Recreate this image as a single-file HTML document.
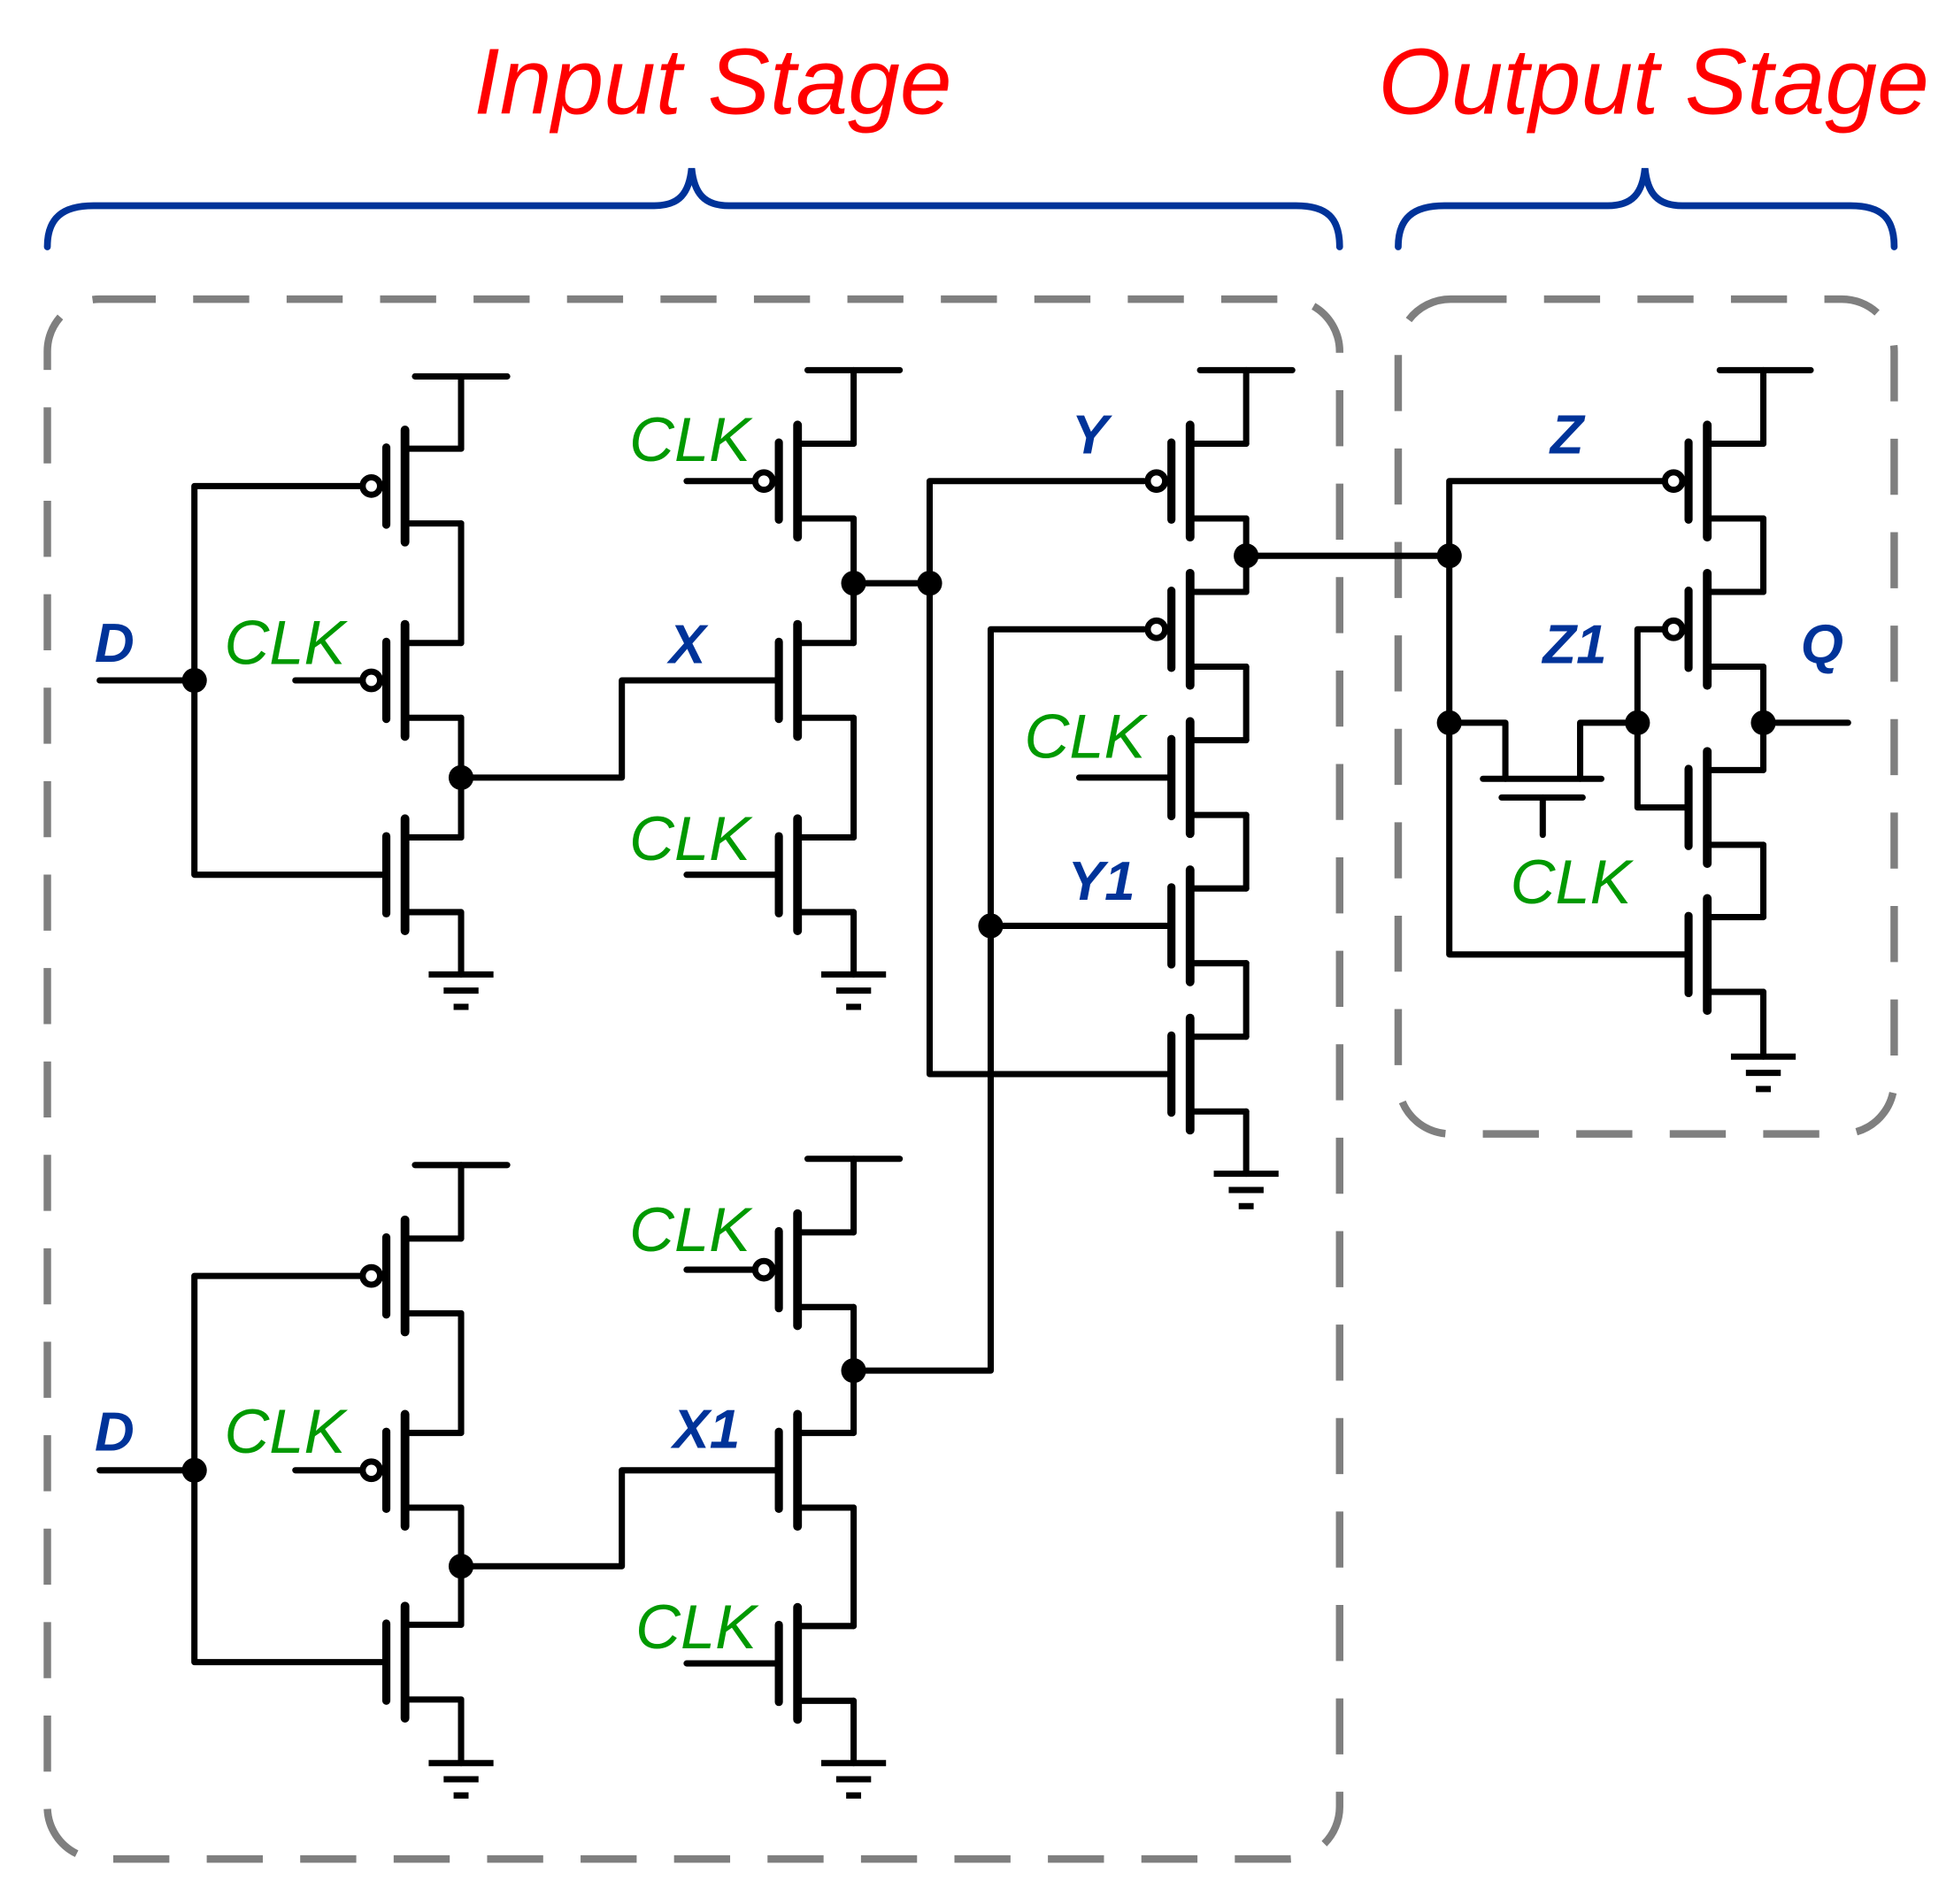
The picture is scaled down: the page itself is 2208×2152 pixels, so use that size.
<!DOCTYPE html>
<html><head><meta charset="utf-8"><style>html,body{margin:0;padding:0;background:#fff;}svg{display:block}</style></head>
<body>
<svg width="2208" height="2152" viewBox="0 0 1568 1528" xmlns="http://www.w3.org/2000/svg">
<defs>
<g id="nm" stroke="#000" fill="none" stroke-linecap="round" stroke-linejoin="round">
<line x1="-15" y1="-31" x2="-15" y2="31" stroke-width="6.5"/>
<line x1="0" y1="-45" x2="0" y2="45" stroke-width="7"/>
<polyline points="0,-30 45,-30" stroke-width="5"/>
<polyline points="0,30 45,30" stroke-width="5"/>
</g>
<g id="pm">
<use href="#nm"/>
<circle cx="-27" cy="0" r="7" fill="#fff" stroke="#000" stroke-width="5"/>
</g>
<g id="gnd" stroke="#000" stroke-width="5" stroke-linecap="butt">
<line x1="-26" y1="0" x2="26" y2="0"/>
<line x1="-14" y1="13" x2="14" y2="13"/>
<line x1="-6" y1="26" x2="6" y2="26"/>
</g>
</defs>
<g fill="none" stroke="#7f7f7f" stroke-width="6" stroke-dasharray="45 30">
<rect x="38" y="240" width="1037" height="1252" rx="42"/>
<rect x="1122" y="240" width="398" height="670" rx="42"/>
</g>
<g fill="none" stroke="#003399" stroke-width="5.5" stroke-linecap="round">
<path d="M38,198 C38,175 50,165 75,165 L525,165 C545,165 553,155 555,135 C557,155 565,165 585,165 L1040,165 C1065,165 1075,175 1075,198"/>
<path d="M1122,198 C1122,175 1134,165 1159,165 L1290,165 C1310,165 1318,155 1320,135 C1322,155 1330,165 1350,165 L1485,165 C1510,165 1520,175 1520,198"/>
</g>
<g font-family="Liberation Sans, sans-serif" font-style="italic" fill="#ff0000" font-size="75">
<text x="572" y="91" text-anchor="middle">Input Stage</text>
<text x="1327" y="91" text-anchor="middle">Output Stage</text>
</g>
<g stroke="#000" stroke-width="5" fill="none" stroke-linejoin="round" stroke-linecap="round">
<line x1="333" y1="302" x2="407" y2="302"/>
<polyline points="370,302 370,360"/>
<polyline points="370,420 370,516"/>
<polyline points="370,576 370,672"/>
<polyline points="370,732 370,782"/>
<line x1="80" y1="546" x2="156" y2="546"/>
<polyline points="290,390 156,390 156,702 308,702"/>
<line x1="237" y1="546" x2="290" y2="546"/>
<polyline points="370,624 499,624 499,546 622,546"/>
<line x1="648" y1="297" x2="722" y2="297"/>
<line x1="685" y1="297" x2="685" y2="356"/>
<line x1="685" y1="416" x2="685" y2="516"/>
<line x1="685" y1="576" x2="685" y2="672"/>
<line x1="685" y1="732" x2="685" y2="782"/>
<line x1="551" y1="386" x2="605" y2="386"/>
<line x1="551" y1="702" x2="622" y2="702"/>
<line x1="685" y1="468" x2="746" y2="468"/>
<polyline points="918,386 746,386 746,862 938,862"/>
<line x1="963" y1="297" x2="1037" y2="297"/>
<line x1="1000" y1="297" x2="1000" y2="356"/>
<line x1="1000" y1="416" x2="1000" y2="475"/>
<line x1="1000" y1="535" x2="1000" y2="594"/>
<line x1="1000" y1="654" x2="1000" y2="713"/>
<line x1="1000" y1="773" x2="1000" y2="832"/>
<line x1="1000" y1="892" x2="1000" y2="942"/>
<line x1="1000" y1="446" x2="1163" y2="446"/>
<polyline points="918,505 795,505 795,1100 685,1100"/>
<line x1="795" y1="743" x2="938" y2="743"/>
<line x1="866" y1="624" x2="938" y2="624"/>
<line x1="333" y1="935" x2="407" y2="935"/>
<polyline points="370,935 370,994"/>
<polyline points="370,1054 370,1150"/>
<polyline points="370,1210 370,1304"/>
<polyline points="370,1364 370,1415"/>
<line x1="80" y1="1180" x2="156" y2="1180"/>
<polyline points="290,1024 156,1024 156,1334 308,1334"/>
<line x1="237" y1="1180" x2="290" y2="1180"/>
<polyline points="370,1257 499,1257 499,1180 622,1180"/>
<line x1="648" y1="930" x2="722" y2="930"/>
<line x1="685" y1="930" x2="685" y2="989"/>
<line x1="685" y1="1049" x2="685" y2="1150"/>
<line x1="685" y1="1210" x2="685" y2="1305"/>
<line x1="685" y1="1365" x2="685" y2="1415"/>
<line x1="551" y1="1019" x2="605" y2="1019"/>
<line x1="551" y1="1335" x2="622" y2="1335"/>
<line x1="1380" y1="297" x2="1453" y2="297"/>
<line x1="1415" y1="297" x2="1415" y2="356"/>
<line x1="1415" y1="416" x2="1415" y2="475"/>
<line x1="1415" y1="535" x2="1415" y2="618"/>
<line x1="1415" y1="678" x2="1415" y2="736"/>
<line x1="1415" y1="796" x2="1415" y2="848"/>
<line x1="1415" y1="580" x2="1483" y2="580"/>
<polyline points="1336,386 1163,386 1163,766 1355,766"/>
<polyline points="1336,505 1314,505 1314,648 1355,648"/>
<polyline points="1163,580 1208,580 1208,625"/>
<polyline points="1314,580 1268,580 1268,625"/>
<line x1="1190" y1="625" x2="1285" y2="625"/>
<line x1="1205" y1="640" x2="1270" y2="640"/>
<line x1="1238" y1="640" x2="1238" y2="670"/>
</g>
<use href="#pm" x="325" y="390"/>
<use href="#pm" x="325" y="546"/>
<use href="#nm" x="325" y="702"/>
<use href="#pm" x="640" y="386"/>
<use href="#nm" x="640" y="546"/>
<use href="#nm" x="640" y="702"/>
<use href="#pm" x="955" y="386"/>
<use href="#pm" x="955" y="505"/>
<use href="#nm" x="955" y="624"/>
<use href="#nm" x="955" y="743"/>
<use href="#nm" x="955" y="862"/>
<use href="#pm" x="325" y="1024"/>
<use href="#pm" x="325" y="1180"/>
<use href="#nm" x="325" y="1334"/>
<use href="#pm" x="640" y="1019"/>
<use href="#nm" x="640" y="1180"/>
<use href="#nm" x="640" y="1335"/>
<use href="#pm" x="1370" y="386"/>
<use href="#pm" x="1370" y="505"/>
<use href="#nm" x="1370" y="648"/>
<use href="#nm" x="1370" y="766"/>
<use href="#gnd" x="370" y="782"/>
<use href="#gnd" x="685" y="782"/>
<use href="#gnd" x="1000" y="942"/>
<use href="#gnd" x="370" y="1415"/>
<use href="#gnd" x="685" y="1415"/>
<use href="#gnd" x="1415" y="848"/>
<g fill="#000">
<circle cx="156" cy="546" r="10"/><circle cx="370" cy="624" r="10"/>
<circle cx="685" cy="468" r="10"/><circle cx="746" cy="468" r="10"/>
<circle cx="1000" cy="446" r="10"/><circle cx="795" cy="743" r="10"/>
<circle cx="156" cy="1180" r="10"/><circle cx="370" cy="1257" r="10"/>
<circle cx="685" cy="1100" r="10"/>
<circle cx="1163" cy="446" r="10"/><circle cx="1163" cy="580" r="10"/>
<circle cx="1314" cy="580" r="10"/><circle cx="1415" cy="580" r="10"/>
</g>
<g font-family="Liberation Sans, sans-serif" font-style="italic" fill="#009900" font-size="50">
<text x="180" y="533">CLK</text>
<text x="505" y="370">CLK</text>
<text x="505" y="690">CLK</text>
<text x="822" y="608">CLK</text>
<text x="1212" y="725">CLK</text>
<text x="180" y="1166">CLK</text>
<text x="505" y="1004">CLK</text>
<text x="510" y="1323">CLK</text>
</g>
<g font-family="Liberation Sans, sans-serif" font-style="italic" font-weight="bold" fill="#003399" font-size="44">
<text x="76" y="531">D</text>
<text x="537" y="532">X</text>
<text x="860" y="364">Y</text>
<text x="857" y="722">Y1</text>
<text x="1244" y="364">Z</text>
<text x="1238" y="532">Z1</text>
<text x="1445" y="532">Q</text>
<text x="76" y="1164">D</text>
<text x="540" y="1162">X1</text>
</g>
</svg>
</body></html>
